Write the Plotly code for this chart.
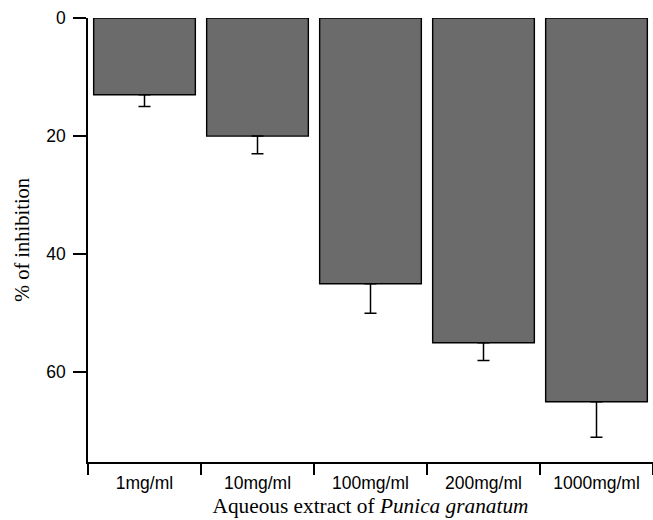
import plotly.graph_objects as go

categories = ["1mg/ml", "10mg/ml", "100mg/ml", "200mg/ml", "1000mg/ml"]
inhibition = [13, 20, 45, 55, 65]
errors = [2, 3, 5, 3, 6]
y_ticks = [0, 20, 40, 60]

fig = go.Figure()
fig.add_trace(go.Bar(
    x=categories,
    y=inhibition,
    marker=dict(color="#6b6b6b", line=dict(color="#000000", width=1.4)),
    error_y=dict(type="data", symmetric=False, array=errors,
                 arrayminus=[0] * len(errors),
                 color="#000000", thickness=1.5, width=6),
))

fig.update_layout(
    width=653, height=520,
    margin=dict(l=88, r=0, t=18, b=58),
    paper_bgcolor="white", plot_bgcolor="white",
    bargap=0.1,
    showlegend=False,
    xaxis=dict(
        type="category",
        range=[-0.5, 4.5],
        automargin=False,
        showline=True, linecolor="black", linewidth=1.5,
        ticks="outside", tickson="boundaries", ticklen=11, tickwidth=1.5,
        tickcolor="black",
        showgrid=False, zeroline=False,
        ticklabelstandoff=4,
        tickfont=dict(family="Liberation Sans, Arial", size=17.5, color="black"),
        title=dict(text="Aqueous extract of <i>Punica granatum</i>",
                   font=dict(family="Liberation Serif, Times New Roman", size=21.3, color="black"),
                   standoff=6),
    ),
    yaxis=dict(
        range=[75.2, 0],
        automargin=False,
        tickvals=y_ticks,
        showline=True, linecolor="black", linewidth=1.5,
        ticks="outside", ticklen=13, tickwidth=1.5, tickcolor="black",
        showgrid=False, zeroline=False,
        ticklabelstandoff=4,
        tickfont=dict(family="Liberation Sans, Arial", size=17.5, color="black"),
        title=dict(text="% of inhibition",
                   font=dict(family="Liberation Serif, Times New Roman", size=20.5, color="black"),
                   standoff=11),
    ),
)

fig.write_html("out.html",
               config={"displayModeBar": False},
               post_script="document.body.style.margin='0';document.body.style.overflow='hidden';")
